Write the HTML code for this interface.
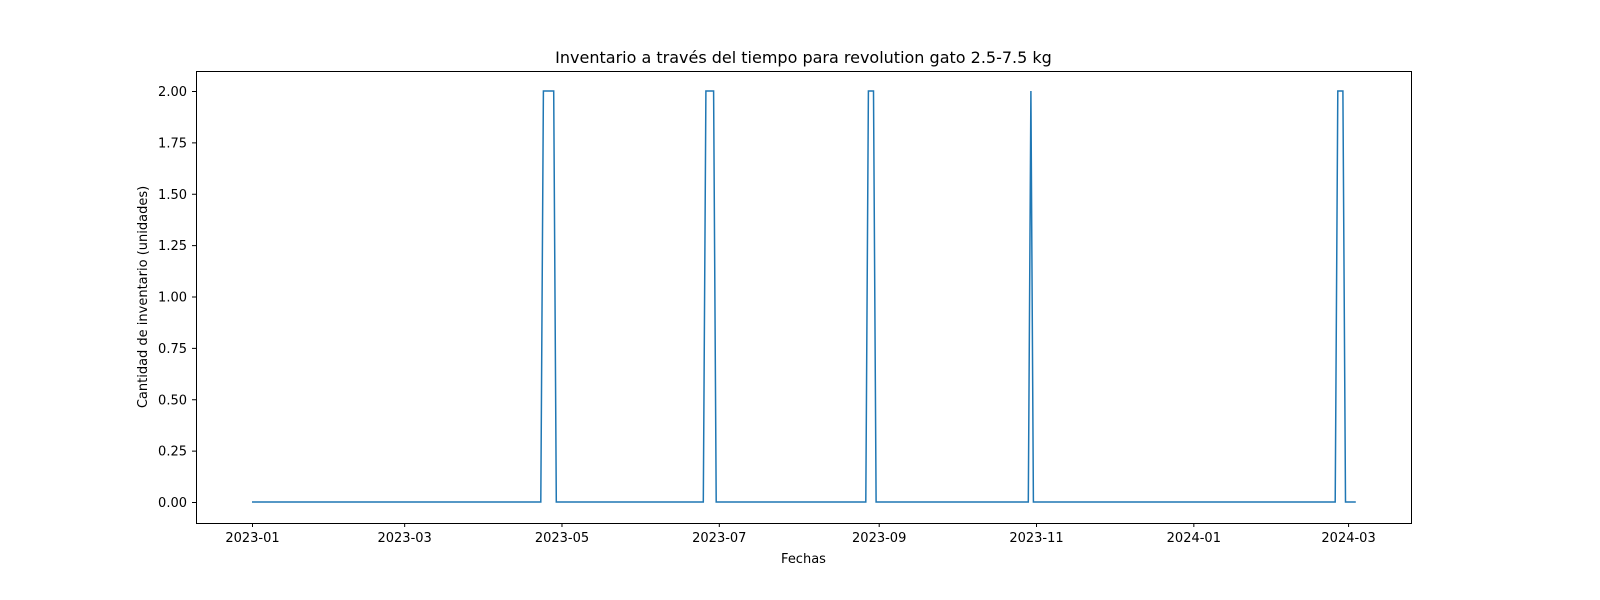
<!DOCTYPE html>
<html><head><meta charset="utf-8"><style>
body{margin:0;background:#fff}
svg{display:block;font-family:"DejaVu Sans","Liberation Sans",sans-serif}
</style></head><body>
<svg id="chart" width="1600" height="600">
<rect width="1600" height="600" fill="#fff"/>
<text x="803.5" y="63" text-anchor="middle" font-size="16" fill="#000">Inventario a través del tiempo para revolution gato 2.5-7.5 kg</text>
<g id="yticks"></g>
<g id="xticks"></g>
<polyline id="line" fill="none" stroke="#1f77b4" stroke-width="1.5"/>
<rect x="196.5" y="71.5" width="1215" height="452" fill="none" stroke="#000" stroke-width="1"/>
<text x="803.5" y="563" text-anchor="middle" font-size="13">Fechas</text>
<text transform="translate(147,297) rotate(-90)" text-anchor="middle" font-size="13">Cantidad de inventario (unidades)</text>
</svg>
<script>
const dates = ["2023-01-01","2023-04-23","2023-04-24","2023-04-28","2023-04-29","2023-06-25","2023-06-26","2023-06-29","2023-06-30","2023-08-27","2023-08-28","2023-08-30","2023-08-31","2023-10-29","2023-10-30","2023-10-31","2024-02-25","2024-02-26","2024-02-28","2024-02-29","2024-03-04"];
const values = [0,0,2,2,0,0,2,2,0,0,2,2,0,0,2,0,0,2,2,0,0];
const yTicks = [0,0.25,0.5,0.75,1,1.25,1.5,1.75,2];
const xTickLabels = ["2023-01","2023-03","2023-05","2023-07","2023-09","2023-11","2024-01","2024-03"];

const NS="http://www.w3.org/2000/svg";
const d0=Date.UTC(2023,0,1);
function dayOf(s){const p=s.split("-").map(Number);return (Date.UTC(p[0],p[1]-1,p[2]||1)-d0)/86400000;}
function xS(day){return 252+day*2.579;}
function yS(v){return 502-v*(411/2);}
const svg=document.getElementById("chart");
document.getElementById("line").setAttribute("points",dates.map((d,i)=>xS(dayOf(d)).toFixed(1)+","+yS(values[i]).toFixed(1)).join(" "));
const yg=document.getElementById("yticks");
yTicks.forEach(v=>{
 const y=yS(v)+0.5;
 const l=document.createElementNS(NS,"line");
 l.setAttribute("x1",192);l.setAttribute("x2",196);l.setAttribute("y1",y);l.setAttribute("y2",y);l.setAttribute("stroke","#000");
 
 
 yg.appendChild(l);
 const t=document.createElementNS(NS,"text");
 t.setAttribute("x",187);t.setAttribute("y",y+4.5);t.setAttribute("text-anchor","end");t.setAttribute("font-size","13");
 t.textContent=v.toFixed(2);
 
 
 yg.appendChild(t);
});
const xg=document.getElementById("xticks");
xTickLabels.forEach(s=>{
 const x=xS(dayOf(s))+0.5;
 const l=document.createElementNS(NS,"line");
 l.setAttribute("x1",x);l.setAttribute("x2",x);l.setAttribute("y1",523);l.setAttribute("y2",527);l.setAttribute("stroke","#000");
 
 
 xg.appendChild(l);
 const t=document.createElementNS(NS,"text");
 t.setAttribute("x",x);t.setAttribute("y",542);t.setAttribute("text-anchor","middle");t.setAttribute("font-size","13");
 t.textContent=s;
 
 
 xg.appendChild(t);
});
</script>
</body></html>
